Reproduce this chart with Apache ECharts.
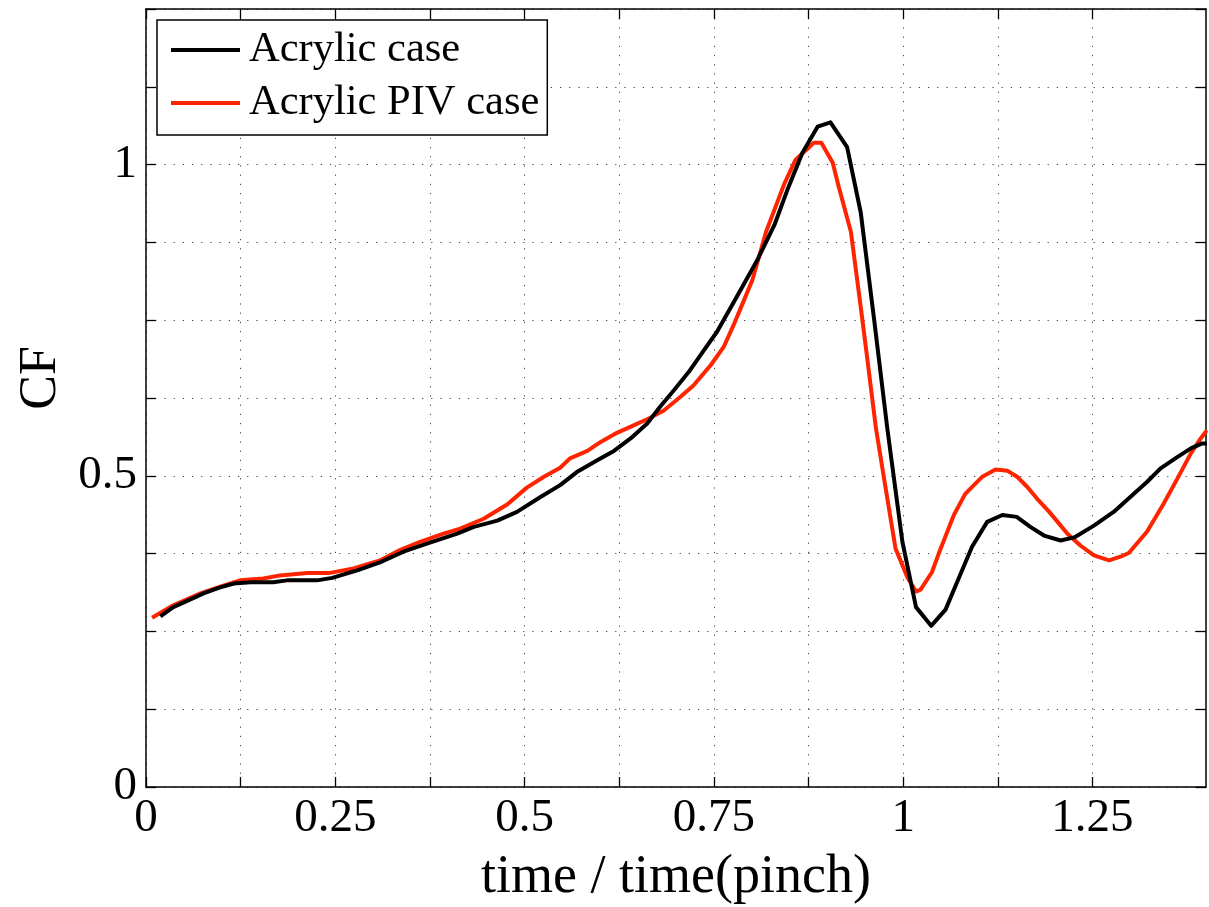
<!DOCTYPE html>
<html>
<head>
<meta charset="utf-8">
<script src="https://cdn.jsdelivr.net/npm/echarts@6/dist/echarts.min.js"></script>
<style>
html,body{margin:0;padding:0;background:#fff;}
#chart{width:1209px;height:907px;}
</style>
</head>
<body>
<div id="chart"></div>
<script>
// ---- data ----
var seriesNames = ['Acrylic case', 'Acrylic PIV case'];

var acrylicTime = [0.019,0.036,0.058,0.076,0.096,0.116,0.138,0.168,0.186,0.226,0.246,0.279,0.309,0.340,0.371,0.411,0.433,0.464,0.490,0.521,0.547,0.569,0.596,0.618,0.640,0.662,0.679,0.697,0.717,0.737,0.754,0.779,0.808,0.830,0.847,0.867,0.887,0.904,0.926,0.944,0.962,0.979,0.999,1.017,1.037,1.056,1.074,1.091,1.111,1.131,1.150,1.168,1.186,1.208,1.226,1.252,1.278,1.300,1.322,1.340,1.362,1.380,1.395,1.401];
var acrylicCF   = [0.274,0.289,0.301,0.311,0.320,0.327,0.329,0.329,0.332,0.332,0.336,0.348,0.361,0.378,0.391,0.407,0.418,0.428,0.442,0.466,0.485,0.506,0.525,0.540,0.560,0.584,0.611,0.637,0.667,0.702,0.731,0.785,0.848,0.903,0.959,1.019,1.061,1.068,1.028,0.923,0.748,0.577,0.394,0.289,0.259,0.285,0.337,0.386,0.426,0.437,0.434,0.418,0.404,0.396,0.401,0.420,0.442,0.466,0.490,0.512,0.530,0.544,0.552,0.552];

var pivTime = [0.008,0.036,0.072,0.098,0.124,0.155,0.177,0.213,0.243,0.274,0.309,0.336,0.362,0.393,0.415,0.446,0.477,0.503,0.525,0.547,0.560,0.583,0.600,0.622,0.644,0.664,0.684,0.706,0.723,0.746,0.763,0.776,0.786,0.801,0.819,0.843,0.858,0.876,0.882,0.892,0.907,0.915,0.931,0.944,0.951,0.964,0.975,0.990,1.006,1.017,1.023,1.038,1.047,1.067,1.082,1.104,1.122,1.138,1.151,1.164,1.177,1.193,1.204,1.217,1.234,1.252,1.272,1.287,1.298,1.322,1.344,1.362,1.380,1.393,1.401];
var pivCF   = [0.272,0.292,0.311,0.322,0.332,0.335,0.340,0.344,0.344,0.351,0.364,0.381,0.394,0.407,0.415,0.431,0.454,0.481,0.498,0.513,0.528,0.540,0.554,0.569,0.581,0.592,0.605,0.627,0.645,0.678,0.707,0.742,0.771,0.815,0.892,0.969,1.008,1.028,1.035,1.035,1.003,0.964,0.892,0.771,0.704,0.577,0.494,0.383,0.336,0.314,0.317,0.345,0.375,0.437,0.471,0.498,0.510,0.508,0.498,0.482,0.463,0.442,0.426,0.407,0.388,0.372,0.364,0.370,0.376,0.410,0.455,0.495,0.536,0.560,0.573];

var xMin = 0, xMax = 1.4, xStep = 0.125, xLabelStep = 0.25;
var xTickValues = [0,0.125,0.25,0.375,0.5,0.625,0.75,0.875,1,1.125,1.25];
var yMin = 0, yMax = 1.25, yStep = 0.125, yLabelStep = 0.5;
var xTitle = 'time / time(pinch)';
var yTitle = 'CF';

function pairs(xs, ys){ var out=[]; for(var i=0;i<xs.length;i++){ out.push([xs[i], ys[i]]); } return out; }
function stepLabel(step){
  return function(v){
    var k = v/step;
    return Math.abs(k - Math.round(k)) < 1e-6 ? String(+v.toFixed(3)) : '';
  };
}

var FONT = 'Liberation Serif';
var gridLine = {show:true, lineStyle:{color:'#444', width:1, type:[1.2,8]}};
var tick = {show:true, inside:true, length:10, lineStyle:{color:'#000', width:1.3}};
var xTick = {show:true, inside:true, length:10, lineStyle:{color:'#000', width:1.3}, customValues:xTickValues};
var axLine = {show:true, onZero:false, lineStyle:{color:'#000', width:1.5}};

var chart = echarts.init(document.getElementById('chart'), null, {renderer:'canvas'});
chart.setOption({
  backgroundColor:'#fff',
  animation:false,
  grid:{left:146, right:3, top:9, bottom:120, containLabel:false, outerBoundsMode:'none'},
  legend:{
    data:[seriesNames[0], seriesNames[1]],
    orient:'vertical',
    left:157, top:20,
    icon:'rect', itemWidth:69, itemHeight:4, itemGap:7,
    padding:[7,8,9,14],
    backgroundColor:'#fff', borderColor:'#000', borderWidth:1.5, borderRadius:0,
    textStyle:{fontFamily:FONT, fontSize:42.5, color:'#000', lineHeight:46, padding:[0,0,0,4]}
  },
  xAxis:[{
    type:'value', min:xMin, max:xMax, interval:xStep, position:'bottom',
    axisLine:axLine, axisTick:xTick, splitLine:gridLine,
    axisLabel:{show:true, margin:8, formatter:stepLabel(xLabelStep), fontFamily:FONT, fontSize:47, color:'#000', showMinLabel:true},
    name:xTitle, nameLocation:'middle', nameGap:64,
    nameTextStyle:{fontFamily:FONT, fontSize:54, color:'#000'}
  },{
    type:'value', min:xMin, max:xMax, interval:xStep, position:'top',
    axisLine:axLine, axisTick:xTick, splitLine:{show:false}, axisLabel:{show:false}
  }],
  yAxis:[{
    type:'value', min:yMin, max:yMax, interval:yStep, position:'left',
    axisLine:axLine, axisTick:tick, splitLine:gridLine,
    axisLabel:{show:true, margin:9, formatter:stepLabel(yLabelStep), fontFamily:FONT, fontSize:47, color:'#000', showMinLabel:true},
    name:yTitle, nameLocation:'middle', nameRotate:90, nameGap:74,
    nameTextStyle:{fontFamily:FONT, fontSize:52, color:'#000', padding:[0,0,0,40]}
  },{
    type:'value', min:yMin, max:yMax, interval:yStep, position:'right',
    axisLine:axLine, axisTick:tick, splitLine:{show:false}, axisLabel:{show:false}
  }],
  series:[{
    name:seriesNames[1], type:'line', data:pairs(pivTime, pivCF),
    color:'#ff2400', showSymbol:false, symbol:'none', clip:true,
    lineStyle:{width:4, color:'#ff2400', join:'round'}
  },{
    name:seriesNames[0], type:'line', data:pairs(acrylicTime, acrylicCF),
    color:'#000', showSymbol:false, symbol:'none', clip:true,
    lineStyle:{width:4, color:'#000', join:'round'}
  }]
});
</script>
</body>
</html>
